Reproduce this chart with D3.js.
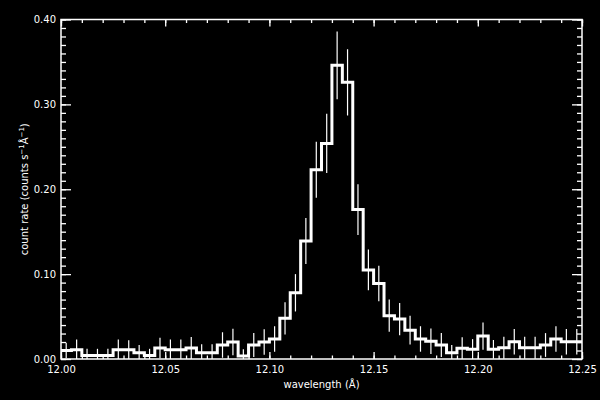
<!DOCTYPE html>
<html><head><meta charset="utf-8">
<script src="https://cdn.jsdelivr.net/npm/d3@7"></script>
<style>html,body{margin:0;padding:0;background:#000;} svg{display:block;background:#000;}</style>
</head><body>
<svg id="c" width="600" height="400"></svg>
<script>
// Bin centres (Å), bin width 0.005 Å
const binCenters = [
 12.0025,12.0075,12.0125,12.0175,12.0225,12.0275,12.0325,12.0375,12.0425,12.0475,
 12.0525,12.0575,12.0625,12.0675,12.0725,12.0775,12.0825,12.0875,12.0925,12.0975,
 12.1025,12.1075,12.1125,12.1175,12.1225,12.1275,12.1325,12.1375,12.1425,12.1475,
 12.1525,12.1575,12.1625,12.1675,12.1725,12.1775,12.1825,12.1875,12.1925,12.1975,
 12.2025,12.2075,12.2125,12.2175,12.2225,12.2275,12.2325,12.2375,12.2425,12.2475];
const binWidth = 0.005;
// count rate (counts s^-1 Å^-1)
const countRate = [
 0.010,0.011,0.004,0.004,0.004,0.011,0.011,0.0074,0.004,0.013,
 0.011,0.011,0.013,0.0074,0.0074,0.0165,0.020,0.0035,0.0165,0.020,
 0.0235,0.048,0.078,0.139,0.223,0.254,0.346,0.326,0.176,0.105,
 0.089,0.051,0.047,0.034,0.0236,0.021,0.0165,0.0074,0.0126,0.0114,
 0.027,0.0114,0.0133,0.0204,0.0133,0.0133,0.0165,0.0236,0.0204,0.0204];
const countErr = [
 0.009,0.012,0.008,0.008,0.008,0.012,0.011,0.009,0.008,0.012,
 0.012,0.012,0.013,0.010,0.010,0.015,0.0155,0.008,0.014,0.015,
 0.015,0.019,0.022,0.027,0.033,0.035,0.040,0.039,0.030,0.024,
 0.021,0.019,0.019,0.017,0.015,0.015,0.014,0.009,0.013,0.012,
 0.016,0.011,0.013,0.015,0.013,0.013,0.014,0.015,0.015,0.015];
const xTickValues = [12.00,12.05,12.10,12.15,12.20,12.25];
const xTickLabels = ["12.00","12.05","12.10","12.15","12.20","12.25"];
const yTickValues = [0.00,0.10,0.20,0.30,0.40];
const yTickLabels = ["0.00","0.10","0.20","0.30","0.40"];
const xTitle = "wavelength (Å)";

const W = 600, H = 400;
const L = 61, R = 582, T = 19.5, B = 359;
const svg = d3.select("#c");
svg.append("rect").attr("width",W).attr("height",H).attr("fill","#000");

const x = d3.scaleLinear().domain([12.00,12.25]).range([L,R]);
const y = d3.scaleLinear().domain([0,0.40]).range([B,T]);

const FONT = "DejaVu Sans";

svg.append("clipPath").attr("id","clip").append("rect")
  .attr("x",L).attr("y",T).attr("width",R-L).attr("height",B-T);

// error bars
svg.append("g").attr("clip-path","url(#clip)")
  .selectAll("line").data(binCenters).join("line")
  .attr("x1",d=>x(d)).attr("x2",d=>x(d))
  .attr("y1",(d,i)=>y(countRate[i]-countErr[i]))
  .attr("y2",(d,i)=>y(countRate[i]+countErr[i]))
  .attr("stroke","#fff").attr("stroke-width",1.2);

// histogram
const pts = binCenters.map((c,i)=>[c-binWidth/2,countRate[i]]);
pts.push([binCenters[binCenters.length-1]+binWidth/2,countRate[countRate.length-1]]);
svg.append("path").attr("clip-path","url(#clip)")
  .attr("d",d3.line().x(d=>x(d[0])).y(d=>y(d[1])).curve(d3.curveStepAfter)(pts))
  .attr("fill","none").attr("stroke","#fff").attr("stroke-width",3)
  .attr("stroke-linejoin","miter");

// axes
const xMinor = d3.range(0,26).map(i=>12+i*0.01);
const yMinor = d3.range(0,41).map(i=>i*0.01);
function style(g){
  g.select(".domain").remove();
  g.selectAll("line").attr("stroke","#fff").attr("stroke-width",1.3);
  g.selectAll("text").attr("fill","#fff").attr("font-family",FONT).attr("font-size",10);
}
svg.append("g").attr("transform",`translate(0,${B})`)
  .call(d3.axisBottom(x).tickValues(xMinor).tickSize(-3.5).tickFormat("")).call(style);
svg.append("g").attr("transform",`translate(0,${B})`)
  .call(d3.axisBottom(x).tickValues(xTickValues).tickSize(-7).tickPadding(7)
    .tickFormat((d,i)=>xTickLabels[i])).call(style);
svg.append("g").attr("transform",`translate(0,${T})`)
  .call(d3.axisTop(x).tickValues(xMinor).tickSize(-3.5).tickFormat("")).call(style);
svg.append("g").attr("transform",`translate(0,${T})`)
  .call(d3.axisTop(x).tickValues(xTickValues).tickSize(-7).tickFormat("")).call(style);
svg.append("g").attr("transform",`translate(${L},0)`)
  .call(d3.axisLeft(y).tickValues(yMinor).tickSize(-5).tickFormat("")).call(style);
svg.append("g").attr("transform",`translate(${L},0)`)
  .call(d3.axisLeft(y).tickValues(yTickValues).tickSize(-10).tickPadding(5)
    .tickFormat((d,i)=>yTickLabels[i])).call(style);
svg.append("g").attr("transform",`translate(${R},0)`)
  .call(d3.axisRight(y).tickValues(yMinor).tickSize(-5).tickFormat("")).call(style);
svg.append("g").attr("transform",`translate(${R},0)`)
  .call(d3.axisRight(y).tickValues(yTickValues).tickSize(-10).tickFormat("")).call(style);

// frame
svg.append("rect").attr("x",L).attr("y",T).attr("width",R-L).attr("height",B-T)
  .attr("fill","none").attr("stroke","#fff").attr("stroke-width",1.5);

// titles
svg.append("text").attr("x",(L+R)/2).attr("y",388).attr("text-anchor","middle")
  .attr("fill","#fff").attr("font-family",FONT).attr("font-size",10).text(xTitle);

const yt = svg.append("text").attr("transform",`translate(28,${(T+B)/2}) rotate(-90)`)
  .attr("text-anchor","middle").attr("fill","#fff").attr("font-family",FONT).attr("font-size",10);
yt.append("tspan").text("count rate (counts s");
yt.append("tspan").attr("dy",-4).attr("font-size",7).text("−1");
yt.append("tspan").attr("dy",4).text("Å");
yt.append("tspan").attr("dy",-4).attr("font-size",7).text("−1");
yt.append("tspan").attr("dy",4).text(")");
</script>
</body></html>
